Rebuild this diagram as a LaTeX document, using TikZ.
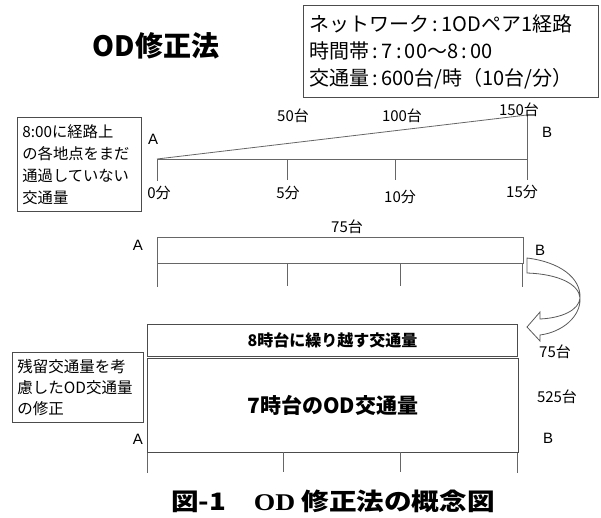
\documentclass[tikz,border=0pt]{standalone}
\usepackage{fontspec}
\setmainfont{Liberation Sans}
\newfontfamily\jp{Noto Sans CJK JP}
\newfontfamily\serifb{Liberation Serif}
\begin{document}
\begin{tikzpicture}[x=1pt,y=-1pt,
  box/.style={draw=black!70, line width=0.8pt, fill=white},
  ln/.style={draw=black!60, line width=0.8pt},
  lbl/.style={font=\jp\fontsize{15}{17}\selectfont, inner sep=0pt},
  ab/.style={font=\fontsize{15}{17}\selectfont, inner sep=0pt}]
\useasboundingbox (0,0) rectangle (601,517);

% title
\node[font=\jp\bfseries\fontsize{28}{34}\selectfont] (title) at (156,46) {OD修正法};

% info box
\node[box, anchor=north west, minimum height=92pt, text width=283pt, inner xsep=6pt, align=left,
  font=\jp\fontsize{20}{27}\selectfont] (info) at (303,5)
  {ネットワーク\,:\,1ODペア1経路\\時間帯\,:\,7\,:\,00〜8\,:\,00\\交通量\,:\,600台/時（10台/分）};

% left box 1
\node[box, anchor=north west, minimum height=94pt, text width=114pt, inner xsep=5pt, align=left,
  font=\jp\fontsize{15.3}{22}\selectfont] (note1) at (17,117)
  {8:00に経路上\\の各地点をまだ\\通過していない\\交通量};

% top diagram
\coordinate (a0) at (157,159);
\coordinate (a0b) at (157,181);
\coordinate (t5) at (287,159);
\coordinate (t5b) at (287,180);
\coordinate (t10) at (395,159);
\coordinate (t10b) at (395,180);
\coordinate (b0) at (527,159);
\coordinate (b0t) at (527,115);
\coordinate (b0b) at (527,180);
\draw[ln] (a0) -- (b0);
\draw[ln] (a0) -- (b0t);
\draw[ln] (b0t) -- (b0b);
\draw[ln] (a0) -- (a0b);
\draw[ln] (t5) -- (t5b);
\draw[ln] (t10) -- (t10b);
\node[ab] (la1) at (153,139) {A};
\node[ab] (lb1) at (547,132) {B};
\node[lbl] (m0) at (159,193) {0分};
\node[lbl] (m5) at (288,193) {5分};
\node[lbl] (m10) at (400,197) {10分};
\node[lbl] (m15) at (522,192) {15分};
\node[lbl] (n50) at (293,116) {50台};
\node[lbl] (n100) at (402,116) {100台};
\node[lbl] (n150) at (519,110) {150台};

% middle diagram
\node[box, draw=black!60, anchor=north west, minimum width=366pt, minimum height=26pt, inner sep=0pt] (mid) at (157,237) {};
\coordinate (m1) at (287,263); \coordinate (m1b) at (287,286);
\coordinate (m2) at (400,263); \coordinate (m2b) at (400,286);
\draw[ln] (mid.south west) -- ++(0,23);
\draw[ln] (m1) -- (m1b);
\draw[ln] (m2) -- (m2b);
\draw[ln] ([xshift=-1pt]mid.south east) -- ++(0,23);
\node[ab] (la2) at (138,245) {A};
\node[ab] (lb2) at (540,250) {B};
\node[lbl] (n75a) at (347,227) {75台};

% curved block arrow
\draw[draw=black!65, line width=0.8pt, fill=white]
  (527,258) .. controls (560,262) and (581,278) .. (580,298)
  .. controls (579,310) and (562,318) .. (540,319)
  -- (540,312) -- (527,327) -- (540,341) -- (540,335)
  .. controls (563,332) and (581,316) .. (580,298)
  .. controls (579,284) and (558,274) .. (527,273) -- cycle;

% bottom diagram
\node[box, anchor=north west, minimum width=370pt, minimum height=32pt, inner sep=0pt,
  font=\jp\bfseries\fontsize{16}{18}\selectfont] (carry) at (147,324) {8時台に繰り越す交通量};
\node[box, anchor=north west, minimum width=371pt, minimum height=94pt, inner sep=0pt,
  font=\jp\bfseries\fontsize{21}{24}\selectfont] (od7) at (147,358) {7時台のOD交通量};
\coordinate (k1) at (283,452); \coordinate (k1b) at (283,472);
\coordinate (k2) at (400,452); \coordinate (k2b) at (400,472);
\draw[ln] (od7.south west) -- ++(0,20);
\draw[ln] (k1) -- (k1b);
\draw[ln] (k2) -- (k2b);
\draw[ln] ([xshift=-1pt]od7.south east) -- ++(0,20);
\node[ab] (la3) at (138,439) {A};
\node[ab] (lb3) at (548,438) {B};
\node[lbl] (n525) at (557,397) {525台};
\node[lbl] (n75b) at (555,352) {75台};

% left box 2
\node[box, anchor=north west, minimum width=131pt, minimum height=70pt, text width=121pt, inner xsep=5pt, align=left,
  font=\jp\fontsize{15.5}{21}\selectfont] (note2) at (12,352)
  {残留交通量を考\\慮したOD交通量\\の修正};

% caption
\begin{scope}[shift={(333,501)}, xscale=1.15]
\node[transform shape, font=\jp\bfseries\fontsize{24}{28}\selectfont] (cap) at (0,0)
  {図-1\quad{\serifb\bfseries OD} 修正法の概念図};
\end{scope}
\end{tikzpicture}
\end{document}
